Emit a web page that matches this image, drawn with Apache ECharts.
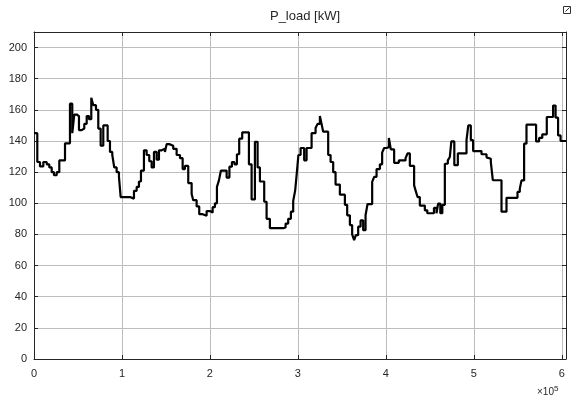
<!DOCTYPE html>
<html>
<head>
<meta charset="utf-8">
<script src="https://cdn.jsdelivr.net/npm/echarts@6/dist/echarts.min.js"></script>
<style>
  html, body { margin: 0; padding: 0; background: #fff; }
  #chart { width: 573px; height: 401px; }
</style>
</head>
<body>
<div id="chart"></div>
<script>
// Load power over one week, held constant between change times.
const changeHours = [
  0, 1.04, 1.89, 2.94, 4.01, 4.83, 5.59, 6.31, 7.17, 7.99,
  9.79, 11.36, 12.09, 12.72, 13.48, 14.2, 15.06, 15.88, 16.64, 17.36,
  18.09, 18.72, 19.57, 20.3, 21.05, 21.88, 23.26, 23.99, 24.72, 25.35,
  26.1, 26.83, 27.37, 30.3, 31.57, 32.42, 33.14, 33.78, 34.72, 35.57,
  36.4, 37.15, 37.88, 38.73, 39.46, 40.31, 41.35, 41.89, 42.71, 43.97,
  45.04, 46.09, 46.94, 47.66, 48.71, 49.78, 50.28, 51.36, 52.18, 53.25,
  54.51, 55.56, 56.41, 57.13, 57.77, 58.4, 59.03, 60.83, 61.71, 62.5,
  63.29, 64.08, 64.8, 65.75, 67.87, 68.72, 69.76, 70.61, 71.34, 72.7,
  73.45, 74.49, 78.69, 79.45, 80.27, 81.12, 81.85, 82.48, 83.02, 83.49,
  84.19, 85.32, 86.08, 87.66, 88.92, 89.55, 90.28, 90.81, 91.32, 92.9,
  93.66, 94.48, 95.23, 96.59, 98.17, 98.9, 99.75, 100.47, 101.1, 101.64,
  102.37, 103.13, 103.95, 104.7, 105.33, 106.79, 107.42, 108.18, 109.22, 109.94,
  110.57, 111.33, 112.06, 112.69, 113.73, 115.21, 117.33, 117.96, 118.69, 120.04,
  120.49, 121.12, 121.84, 123.42, 124.2, 126.3, 127.11, 127.62, 128.31, 128.95,
  129.74, 130.68, 131.31, 131.79, 132.73, 133.84, 136.58, 137.15, 137.94, 138.67,
  141.32, 142.9, 143.4, 144.26, 144.89, 147.63, 149.21, 152.68, 153.41, 153.95,
  154.77, 155.52, 158.56, 159.5, 160.51, 161.93, 163.92, 164.71, 165.5, 166.29,
  168
];
const loadKW = [
  145, 126.5, 123.7, 126.5, 125, 123, 120, 118, 120, 127.5,
  138.5, 164, 145, 157, 156, 147, 148, 151, 156, 154,
  167.7, 163, 160, 148, 137, 150, 140, 133, 131, 123,
  120, 117, 104, 103, 108, 110.5, 114, 121, 134, 131,
  127, 123, 133, 128, 134, 135, 133, 138, 137, 135,
  131, 129, 122, 124, 113, 106, 102, 98, 93, 92,
  95, 94, 97.5, 100, 110.5, 114.7, 121, 116.5, 123.5, 126.5,
  125, 131.5, 141.5, 145.5, 125, 102.5, 139.5, 123, 114, 101,
  90, 84, 84.5, 87, 90, 94.6, 101.5, 108.3, 120, 131,
  135.5, 127.6, 135.5, 145, 148.3, 151, 156, 151, 146, 131,
  126.5, 120, 112, 105.5, 99, 92.3, 86, 80, 76.3, 79.5,
  85, 89, 82.7, 92.3, 99.5, 113.7, 117, 122, 125, 132.5,
  135.5, 136, 142, 134.6, 126, 127.5, 129, 132, 124, 111.5,
  108.3, 104, 98.5, 95.5, 93.6, 97, 93.6, 99.8, 93.6, 99,
  125.4, 127.6, 129.7, 139.7, 124.5, 132, 140.5, 150, 140.5, 133.5,
  131.5, 129.5, 128.6, 126.5, 114.8, 94.6, 103.5, 107.3, 109.4, 114.7,
  138.3, 150.5, 139.7, 142, 144.3, 155.4, 162.8, 155, 143.6, 140,
  140
];
const xTickStep = 100000;   // seconds between x ticks
const yTickStep = 20;       // kW between y ticks
const xEnd = 604800;        // one week in seconds
const yEnd = 210;

const seriesData = changeHours.map((h, i) => [h * 3600, loadKW[i]]);

const FONT = 'Liberation Sans, Arial, sans-serif';
const AXIS_COL = '#262626';
const GRID_COL = '#bdbdbd';

const chart = echarts.init(document.getElementById('chart'), null, { renderer: 'canvas' });

const mkX = (pos, labels) => ({
  type: 'value', position: pos, min: 0, max: xEnd, interval: xTickStep,
  axisLine: { show: true, onZero: false, lineStyle: { color: AXIS_COL, width: 1 } },
  axisTick: { show: true, inside: true, length: 4, lineStyle: { color: AXIS_COL } },
  axisLabel: {
    show: labels, showMaxLabel: false, margin: 9, color: AXIS_COL, fontFamily: FONT, fontSize: 11,
    formatter: v => (v % xTickStep === 0 ? String(v / xTickStep) : '')
  },
  splitLine: { show: labels, lineStyle: { color: GRID_COL, width: 1 } }
});
const mkY = (pos, labels) => ({
  type: 'value', position: pos, min: 0, max: yEnd, interval: yTickStep,
  axisLine: { show: true, onZero: false, lineStyle: { color: AXIS_COL, width: 1 } },
  axisTick: { show: true, inside: true, length: 4, lineStyle: { color: AXIS_COL } },
  axisLabel: {
    show: labels, showMaxLabel: false, margin: 7, color: AXIS_COL, fontFamily: FONT, fontSize: 11,
    formatter: v => (v % yTickStep === 0 ? String(v) : '')
  },
  splitLine: { show: labels, lineStyle: { color: GRID_COL, width: 1 } }
});

chart.setOption({
  animation: false,
  backgroundColor: '#ffffff',
  title: {
    text: 'P_load [kW]', left: 300, top: 5, textAlign: 'center',
    textStyle: { fontFamily: FONT, fontSize: 13, fontWeight: 'normal', color: AXIS_COL }
  },
  grid: { left: 34, right: 7, top: 32, bottom: 42, containLabel: false },
  xAxis: [mkX('bottom', true), mkX('top', false)],
  yAxis: [mkY('left', true), mkY('right', false)],
  series: [{
    type: 'line',
    step: 'end',
    data: seriesData,
    showSymbol: false,
    lineStyle: { color: '#000000', width: 2.2 },
    z: 5
  }],
  graphic: [
    {
      type: 'text', left: 537, top: 385,
      style: {
        text: '×10{s|5}', fontFamily: FONT, fontSize: 10, fill: AXIS_COL,
        rich: { s: { fontSize: 8, verticalAlign: 'top', padding: [0, 0, 6, 0], fill: AXIS_COL, fontFamily: FONT } }
      }
    },
    {
      type: 'group', right: 1, top: 5,
      children: [
        { type: 'rect', shape: { x: 0, y: 0, width: 7, height: 7 }, style: { fill: '#fff', stroke: '#333', lineWidth: 1 } },
        { type: 'line', shape: { x1: 2, y1: 5, x2: 6, y2: 1 }, style: { stroke: '#333', lineWidth: 1 } }
      ]
    }
  ]
});
</script>
</body>
</html>
